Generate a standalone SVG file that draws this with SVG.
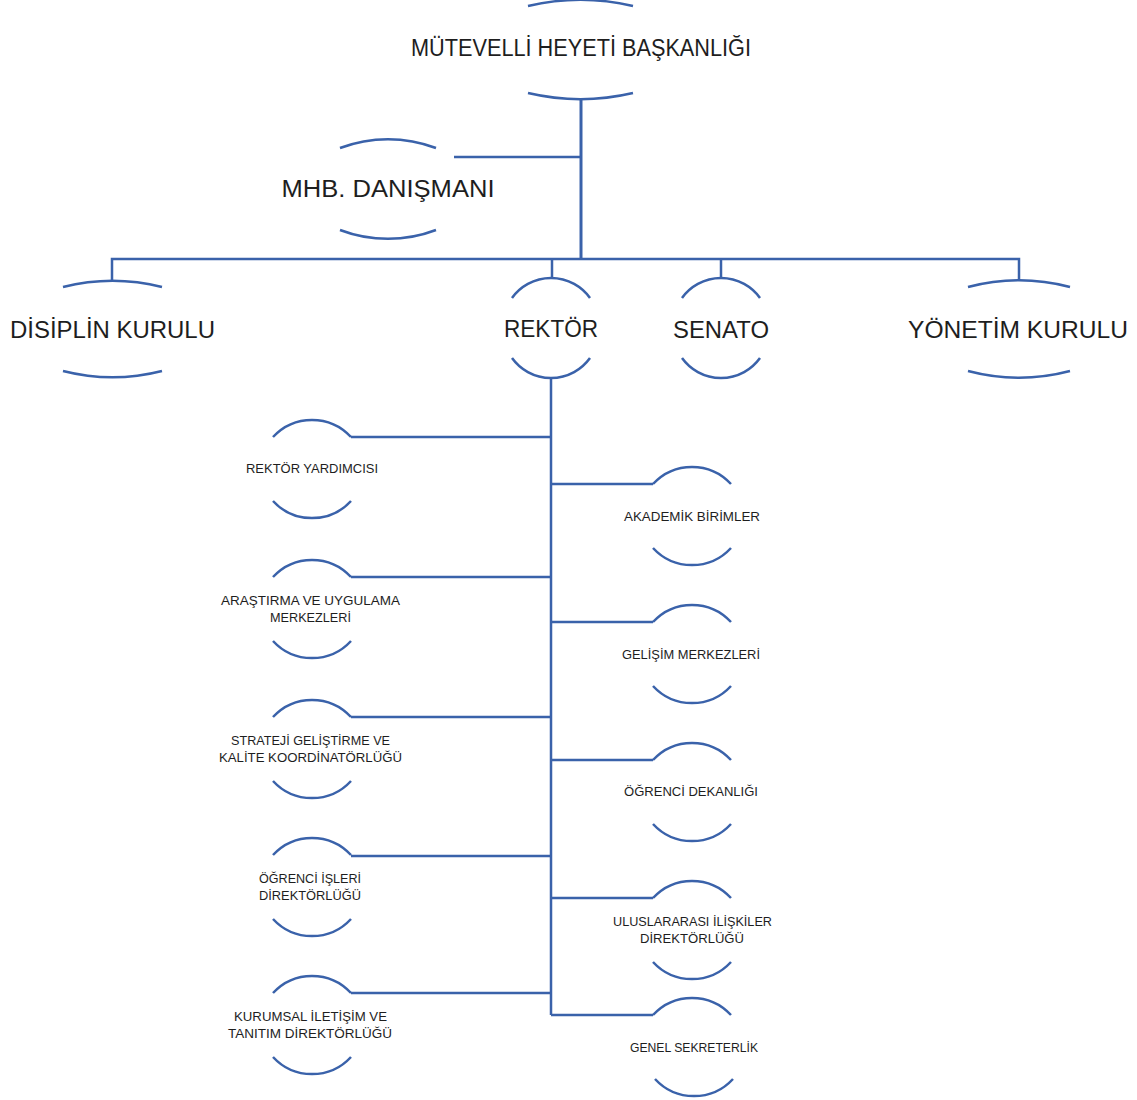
<svg xmlns="http://www.w3.org/2000/svg" width="1137" height="1100" viewBox="0 0 1137 1100">
<style>
.arc{fill:none;stroke:#3a62aa;stroke-width:2.5}
.con{fill:none;stroke:#3a62aa;stroke-width:2.5}
.big{font-family:"Liberation Sans",Arial,sans-serif;font-size:23px;fill:#1e1e1e;text-anchor:middle}
.sm{font-family:"Liberation Sans",Arial,sans-serif;font-size:13.5px;fill:#1e1e1e;text-anchor:middle}
</style>
<rect width="1137" height="1100" fill="#fff"/>
<g id="connectors">
<path class="con" d="M581,99V259" style="stroke-width:3"/>
<path class="con" d="M454,157H581"/>
<path class="con" d="M112,281V259H1019V281"/>
<path class="con" d="M552,259V278"/>
<path class="con" d="M721,259V278"/>
<path class="con" d="M551,378V1015"/>
<path class="con" d="M351,437H551M351,577H551M351,717H551M351,856H551M351,993H551"/>
<path class="con" d="M551,484H653M551,622H653M551,760H653M551,898H653M551,1015H653"/>
</g>
<g id="mutevelli">
<path class="arc" d="M528,6A230,230 0 0 1 633,6"/>
<path class="arc" d="M528,93A230,230 0 0 0 633,93"/>
<text class="big" x="581" y="56" textLength="340" lengthAdjust="spacingAndGlyphs">MÜTEVELLİ HEYETİ BAŞKANLIĞI</text>
</g>
<g id="mhb">
<path class="arc" d="M340,148A135,135 0 0 1 436,148"/>
<path class="arc" d="M340,230A135,135 0 0 0 436,230"/>
<text class="big" x="388" y="197" textLength="213" lengthAdjust="spacingAndGlyphs">MHB. DANIŞMANI</text>
</g>
<g id="disiplin">
<path class="arc" d="M63,287A200,200 0 0 1 162,287"/>
<path class="arc" d="M63,371A200,200 0 0 0 162,371"/>
<text class="big" x="112.5" y="338" textLength="205" lengthAdjust="spacingAndGlyphs">DİSİPLİN KURULU</text>
</g>
<g id="rektor">
<path class="arc" d="M512,298A48,48 0 0 1 590,298"/>
<path class="arc" d="M512,358A48,48 0 0 0 590,358"/>
<text class="big" x="551" y="337" textLength="94" lengthAdjust="spacingAndGlyphs">REKTÖR</text>
</g>
<g id="senato">
<path class="arc" d="M682,298A48,48 0 0 1 760,298"/>
<path class="arc" d="M682,358A48,48 0 0 0 760,358"/>
<text class="big" x="721" y="338" textLength="96" lengthAdjust="spacingAndGlyphs">SENATO</text>
</g>
<g id="yonetim">
<path class="arc" d="M968,287A200,200 0 0 1 1070,287"/>
<path class="arc" d="M968,371A200,200 0 0 0 1070,371"/>
<text class="big" x="1018" y="338" textLength="220" lengthAdjust="spacingAndGlyphs">YÖNETİM KURULU</text>
</g>
<g id="rektor-yardimcisi">
<path class="arc" d="M273,437A53,53 0 0 1 351,437"/>
<path class="arc" d="M273,501A53,53 0 0 0 351,501"/>
<text class="sm" x="312" y="473" textLength="132" lengthAdjust="spacingAndGlyphs">REKTÖR YARDIMCISI</text>
</g>
<g id="arastirma">
<path class="arc" d="M273,577A53,53 0 0 1 351,577"/>
<path class="arc" d="M273,641A53,53 0 0 0 351,641"/>
<text class="sm" x="310.5" y="605" textLength="179" lengthAdjust="spacingAndGlyphs">ARAŞTIRMA VE UYGULAMA</text>
<text class="sm" x="310.5" y="622" textLength="81" lengthAdjust="spacingAndGlyphs">MERKEZLERİ</text>
</g>
<g id="strateji">
<path class="arc" d="M273,717A53,53 0 0 1 351,717"/>
<path class="arc" d="M273,781A53,53 0 0 0 351,781"/>
<text class="sm" x="310.5" y="745" textLength="159" lengthAdjust="spacingAndGlyphs">STRATEJİ GELİŞTİRME VE</text>
<text class="sm" x="310.5" y="762" textLength="183" lengthAdjust="spacingAndGlyphs">KALİTE KOORDİNATÖRLÜĞÜ</text>
</g>
<g id="ogrenci-isleri">
<path class="arc" d="M273,855A53,53 0 0 1 351,855"/>
<path class="arc" d="M273,919A53,53 0 0 0 351,919"/>
<text class="sm" x="310" y="883" textLength="102" lengthAdjust="spacingAndGlyphs">ÖĞRENCİ İŞLERİ</text>
<text class="sm" x="310" y="900" textLength="102" lengthAdjust="spacingAndGlyphs">DİREKTÖRLÜĞÜ</text>
</g>
<g id="kurumsal">
<path class="arc" d="M273,993A53,53 0 0 1 351,993"/>
<path class="arc" d="M273,1057A53,53 0 0 0 351,1057"/>
<text class="sm" x="310.5" y="1021" textLength="153" lengthAdjust="spacingAndGlyphs">KURUMSAL İLETİŞİM VE</text>
<text class="sm" x="310" y="1038" textLength="164" lengthAdjust="spacingAndGlyphs">TANITIM DİREKTÖRLÜĞÜ</text>
</g>
<g id="akademik">
<path class="arc" d="M653,484A53,53 0 0 1 731,484"/>
<path class="arc" d="M653,548A53,53 0 0 0 731,548"/>
<text class="sm" x="692" y="521" textLength="136" lengthAdjust="spacingAndGlyphs">AKADEMİK BİRİMLER</text>
</g>
<g id="gelisim">
<path class="arc" d="M653,622A53,53 0 0 1 731,622"/>
<path class="arc" d="M653,686A53,53 0 0 0 731,686"/>
<text class="sm" x="691" y="659" textLength="138" lengthAdjust="spacingAndGlyphs">GELİŞİM MERKEZLERİ</text>
</g>
<g id="ogrenci-dekanligi">
<path class="arc" d="M653,760A53,53 0 0 1 731,760"/>
<path class="arc" d="M653,824A53,53 0 0 0 731,824"/>
<text class="sm" x="691" y="796" textLength="134" lengthAdjust="spacingAndGlyphs">ÖĞRENCİ DEKANLIĞI</text>
</g>
<g id="uluslararasi">
<path class="arc" d="M653,898A53,53 0 0 1 731,898"/>
<path class="arc" d="M653,962A53,53 0 0 0 731,962"/>
<text class="sm" x="692.5" y="926" textLength="159" lengthAdjust="spacingAndGlyphs">ULUSLARARASI İLİŞKİLER</text>
<text class="sm" x="692" y="943" textLength="104" lengthAdjust="spacingAndGlyphs">DİREKTÖRLÜĞÜ</text>
</g>
<g id="genel-sekreterlik">
<path class="arc" d="M653,1015A53,53 0 0 1 731,1015"/>
<path class="arc" d="M655,1079A53,53 0 0 0 733,1079"/>
<text class="sm" x="694" y="1052" textLength="128" lengthAdjust="spacingAndGlyphs">GENEL SEKRETERLİK</text>
</g>
</svg>
